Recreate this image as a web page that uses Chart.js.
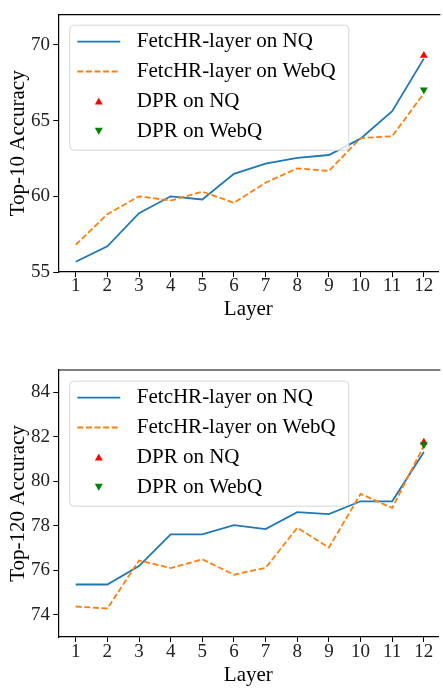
<!DOCTYPE html>
<html>
<head>
<meta charset="utf-8">
<script src="https://cdn.jsdelivr.net/npm/chart.js@4.4.0/dist/chart.umd.min.js"></script>
<style>
  html, body { margin: 0; padding: 0; background: #fff; overflow: hidden; }
  canvas { display: block; }
</style>
</head>
<body>
<canvas id="top10" width="443" height="340"></canvas>
<canvas id="top120" width="443" height="349"></canvas>
<script>
// data
const layers = [1, 2, 3, 4, 5, 6, 7, 8, 9, 10, 11, 12];

const nqTop10   = [55.68, 56.70, 58.89, 60.00, 59.79, 61.48, 62.16, 62.54, 62.73, 63.81, 65.62, 69.10];
const webqTop10 = [56.80, 58.82, 60.00, 59.72, 60.31, 59.57, 60.90, 61.85, 61.68, 63.85, 63.97, 66.80];
const dprNqTop10 = 69.30;
const dprWebqTop10 = 67.04;
const yTicksTop10 = [55, 60, 65, 70];

const nqTop120   = [75.36, 75.36, 76.19, 77.61, 77.61, 78.03, 77.85, 78.61, 78.52, 79.10, 79.10, 81.31];
const webqTop120 = [74.37, 74.28, 76.44, 76.10, 76.49, 75.80, 76.11, 77.91, 77.02, 79.43, 78.80, 81.60];
const dprNqTop120 = 81.75;
const dprWebqTop120 = 81.65;
const yTicksTop120 = [74, 76, 78, 80, 82, 84];

const labels = ['FetcHR-layer on NQ', 'FetcHR-layer on WebQ', 'DPR on NQ', 'DPR on WebQ'];

Chart.defaults.font.family = '"Liberation Serif", "DejaVu Serif", serif';
Chart.defaults.color = '#000';

function xy(xs, ys) {
    return xs.map((x, i) => ({x: x, y: ys[i]}));
}

function triangle(ctx, x, y, r, down) {
    const s = down ? -1 : 1;
    ctx.beginPath();
    ctx.moveTo(x, y - s * r);
    ctx.lineTo(x + r * 0.866, y + s * r / 2);
    ctx.lineTo(x - r * 0.866, y + s * r / 2);
    ctx.closePath();
    ctx.fill();
}

// matplotlib-like legend box in the upper left of the axes
const boxLegend = {
    id: 'boxLegend',
    afterDatasetsDraw(chart, args, opts) {
        const ctx = chart.ctx;
        const a = chart.chartArea;
        const bx = a.left + 11, by = a.top + opts.dy;
        const bw = 279, bh = 125;
        ctx.save();
        ctx.beginPath();
        ctx.roundRect(bx + 0.5, by + 0.5, bw, bh, 4);
        ctx.fillStyle = 'rgba(255,255,255,0.8)';
        ctx.fill();
        ctx.strokeStyle = '#d5d5d5';
        ctx.lineWidth = 1;
        ctx.stroke();
        ctx.font = '21px "Liberation Serif"';
        ctx.textBaseline = 'middle';
        ctx.fillStyle = '#000';
        chart.data.datasets.forEach((ds, i) => {
            const ry = by + 17 + i * 29.8;
            if (ds.showLine) {
                ctx.beginPath();
                ctx.setLineDash(ds.borderDash || []);
                ctx.strokeStyle = ds.borderColor;
                ctx.lineWidth = ds.borderWidth;
                ctx.moveTo(bx + 8, ry);
                ctx.lineTo(bx + 51, ry);
                ctx.stroke();
                ctx.setLineDash([]);
            } else {
                ctx.fillStyle = ds.backgroundColor;
                triangle(ctx, bx + 29.5, ry + (ds.rotation ? -1 : 1), 4.6, !!ds.rotation);
            }
            ctx.fillStyle = '#000';
            ctx.fillText(ds.label, bx + 67.5, ry);
        });
        ctx.restore();
    }
};

// top spine (right spine lies outside the picture)
const frame = {
    id: 'frame',
    afterDraw(chart) {
        const ctx = chart.ctx;
        const a = chart.chartArea;
        ctx.save();
        ctx.strokeStyle = '#000';
        ctx.lineWidth = 1.2;
        ctx.beginPath();
        ctx.moveTo(a.left, a.top);
        ctx.lineTo(a.right + 2, a.top);
        ctx.stroke();
        ctx.restore();
    }
};

function makeChart(id, nq, webq, dprNq, dprWebq, yTicks, yMin, yMax, yTitle, lay) {
    const datasets = [
        {label: labels[0], data: xy(layers, nq), showLine: true, borderColor: '#1f77b4',
         borderWidth: 1.8, pointRadius: 0, order: 4},
        {label: labels[1], data: xy(layers, webq), showLine: true, borderColor: '#ff7f0e',
         borderWidth: 1.8, borderDash: [6, 2.6], pointRadius: 0, order: 3},
        {label: labels[2], data: [{x: 12, y: dprNq}], showLine: false, pointStyle: 'triangle',
         pointRadius: 4.6, backgroundColor: '#ff0000', borderColor: '#ff0000', borderWidth: 0, order: 2},
        {label: labels[3], data: [{x: 12, y: dprWebq}], showLine: false, pointStyle: 'triangle',
         rotation: 180, pointRadius: 4.6, backgroundColor: '#008000', borderColor: '#008000', borderWidth: 0, order: 1}
    ];
    return new Chart(document.getElementById(id).getContext('2d'), {
        type: 'scatter',
        data: {datasets: datasets},
        options: {
            responsive: false,
            animation: false,
            devicePixelRatio: 1,
            layout: {padding: {top: lay.top, left: 0, right: 0, bottom: lay.bottom}},
            plugins: {legend: {display: false}, tooltip: {enabled: false}, boxLegend: {dy: lay.legendDy}},
            scales: {
                x: {
                    type: 'linear', min: 0.45, max: 12.46,
                    afterBuildTicks: s => { s.ticks = layers.map(v => ({value: v})); },
                    afterFit: s => { s.height = lay.xHeight; },
                    grid: {drawOnChartArea: false, drawTicks: true, tickLength: 5, color: '#000', lineWidth: 1},
                    border: {display: true, color: '#000', width: 1.2},
                    ticks: {font: {size: 19}, color: '#222', padding: lay.xPad, maxRotation: 0, autoSkip: false},
                    title: {display: true, text: 'Layer', font: {size: 21}, color: '#000', padding: {top: 0, bottom: 0}}
                },
                y: {
                    min: yMin, max: yMax,
                    afterBuildTicks: s => { s.ticks = yTicks.map(v => ({value: v})); },
                    afterFit: s => { s.width = 58.3; },
                    grid: {drawOnChartArea: false, drawTicks: true, tickLength: 5, color: '#000', lineWidth: 1},
                    border: {display: true, color: '#000', width: 1.2},
                    ticks: {font: {size: 19}, color: '#222', padding: 3.3},
                    title: {display: true, text: yTitle, font: {size: 21}, color: '#000', padding: {top: 5.4, bottom: 0}}
                }
            }
        },
        plugins: [boxLegend, frame]
    });
}

makeChart('top10', nqTop10, webqTop10, dprNqTop10, dprWebqTop10, yTicksTop10, 55, 72,
    'Top-10 Accuracy', {top: 5, bottom: 18.4, xHeight: 49.6, xPad: -2.4, legendDy: 10});
makeChart('top120', nqTop120, webqTop120, dprNqTop120, dprWebqTop120, yTicksTop120, 73, 85,
    'Top-120 Accuracy', {top: 30, bottom: 1, xHeight: 51, xPad: -1, legendDy: 10.7});
</script>
</body>
</html>
